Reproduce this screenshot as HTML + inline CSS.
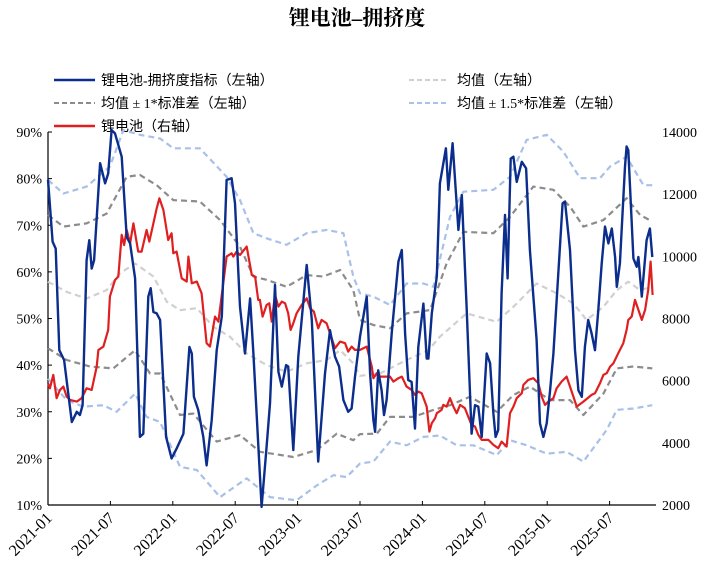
<!DOCTYPE html>
<html><head><meta charset="utf-8">
<style>
html,body{margin:0;padding:0;background:#fff;}
svg{display:block;}
</style></head>
<body>
<svg id="chart" width="715" height="575" viewBox="0 0 715 575" xmlns="http://www.w3.org/2000/svg">
<text x="357" y="25" text-anchor="middle" font-family="'Liberation Serif','Noto Serif CJK SC',serif" font-weight="bold" font-size="21" fill="#000">锂电池–拥挤度</text>
<g font-family="'Liberation Serif','Noto Sans CJK SC',serif" font-size="14" fill="#000">
 <g><line x1="54" y1="80" x2="95" y2="80" stroke="#0b2d8c" stroke-width="2.5"/><text x="101" y="85">锂电池-拥挤度指标（左轴）</text></g>
 <g><line x1="409" y1="80" x2="449" y2="80" stroke="#d0d0d0" stroke-width="2" stroke-dasharray="5,3"/><text x="457" y="85">均值（左轴）</text></g>
 <g><line x1="54" y1="103" x2="95" y2="103" stroke="#8c8c8c" stroke-width="2" stroke-dasharray="5,3"/><text x="101" y="108">均值 ± 1*标准差（左轴）</text></g>
 <g><line x1="409" y1="103" x2="449" y2="103" stroke="#a9c0e8" stroke-width="2" stroke-dasharray="5,3"/><text x="457" y="108">均值 ± 1.5*标准差（左轴）</text></g>
 <g><line x1="54" y1="126" x2="95" y2="126" stroke="#e02020" stroke-width="2.5"/><text x="101" y="131">锂电池（右轴）</text></g>
</g>
<g id="axes"></g>
<g id="series"></g>
</svg>
<script>
// week index from 2021-01 (x), values
const leftTicks=[10,20,30,40,50,60,70,80,90];
const rightTicks=[2000,4000,6000,8000,10000,12000,14000];
const xTickLabels=["2021-01","2021-07","2022-01","2022-07","2023-01","2023-07","2024-01","2024-07","2025-01","2025-07"];
const idxWeeks=[0,1.9,3.2,4.7,6.7,9.9,12,13.3,14.4,16.1,17.2,18.2,19.2,21.7,23.8,25.1,26.5,27.9,30.7,32.8,34.2,36.3,38.3,39.7,41.8,42.8,43.9,45.3,46.7,49.2,51.5,53.6,56.4,58.9,59.9,60.8,62.6,64.7,66.1,68.2,70.3,72.4,74.4,76.5,77.9,80,82.1,84.2,85.6,89,91.1,92.5,94.6,96,97.4,99.2,100.1,102.2,104.3,107.8,109.9,112.6,115.4,117.5,119.6,121.3,123.1,125.1,126.5,127.9,130,132.8,134.2,135.6,136.3,137.6,139,140,141.1,143.2,146,147.4,148.8,150.1,151.5,152.9,154.3,156.4,157.8,158.5,159.9,162,163.3,165.8,166.8,168.6,171,172.4,174.4,176.5,177.9,179.3,180.7,182.8,184.2,185.6,186.5,187.6,189,190.4,191.5,192.8,193.9,195.3,197.4,199.2,200.8,203.6,205,206.4,207.8,209.2,210.6,212.6,214.4,215.4,217.5,219.6,221,222.4,223.7,225.1,226.5,227.9,229.3,230.7,232.1,233.5,234.9,236.3,237,238.3,240.4,241.1,241.8,243.9,245.3,246,247.4,249.4,250.8,251.8];
const idxValues=[79.8,66.5,65,43.2,41.1,27.8,30,29.3,31.4,62.5,66.8,60.7,62.5,83.3,79,81.1,90.4,89.7,84.7,67.5,66.1,58.6,24.6,25.3,54.7,56.5,51.4,51.1,49.7,24.6,20,22.1,25.3,43.9,42.5,33.2,30.4,24.6,18.5,28.2,43.2,50.4,79.7,80.1,74.7,52.5,42.5,54.3,42.5,9.6,22.5,31.8,57.2,38.6,35.4,40,39.7,21.8,41.8,61.5,49.7,19.3,38.2,47.5,41.8,39.7,32.5,30,30.7,37.5,46.1,54.7,38.2,28.2,25.7,38.9,34.6,29.3,32.5,46.8,62.2,64.7,46.8,36.8,36.4,26.4,43.9,53.2,41.4,41.4,51.1,59,79,86.5,77.6,87.6,69,76.5,52.5,25.3,31.4,31.1,24.6,42.5,40.4,29.6,24.6,26.1,55.4,72.2,58.6,84.3,84.7,79.3,83.6,82.2,64.7,45.4,27.5,24.6,27.5,34.6,42.5,59.3,74.7,75.1,64.7,43.2,34.6,33.2,43.9,49.7,46.8,43.2,51.8,61.8,69.7,66.1,69.3,63.2,56.8,61.8,82.6,86.9,86.1,62.9,61.1,63.2,54.7,66.8,69.3,63.2];
const priceWeeks=[0,0.8,2.2,3.6,5,6.4,7.8,9.2,12,14,16.1,18.2,20.3,21,23.1,25.1,25.8,27.9,29.3,30.7,31.7,32.8,34.2,35.6,37.6,39,41.1,42.2,43.9,45.3,46.4,48.1,50.1,51.5,52.2,53.6,55.7,57.8,58.5,59.9,62,64,66.1,67.5,69.6,71,74.4,76.5,77.2,78.6,80,82.8,84.9,86.3,87.6,88.3,89.4,91.1,92.2,93.2,94.6,96,97.4,98.8,100.1,101.1,102.2,103.6,105.7,107.8,109.2,110.8,112.6,114,116.1,117.5,119.6,121.7,123.8,125.1,126.5,127.9,130,132.8,134.9,135.6,137,138.3,140.4,142.5,143.9,146,147.4,149.4,151.5,152.9,154.3,155.7,157.8,158.9,159.9,161.3,162,164,164.7,166.1,167.5,168.9,170.3,171.7,173.7,175.1,176.5,177.9,179.3,180.7,183.5,185.6,187.6,189,191.1,192.5,193.9,195.3,197.4,198.1,200.1,202.2,204.3,205.7,207.1,208.5,210.6,211.9,214,216.1,217.5,218.9,220.3,223.1,226.5,227.9,230,231.4,232.8,234.2,235.6,237.6,239.7,241.1,241.8,243.2,244.6,246,247.4,248.8,250.1,251.1,251.9];
const priceValues=[5917,5756,6185,5435,5703,5810,5488,5381,5328,5435,5756,5703,6453,6989,7096,7632,8704,9240,9348,10688,10366,10848,10420,11063,10152,10152,10848,10473,11063,11545,11867,11492,10527,10741,10098,10152,9294,9187,9991,9133,9187,8812,7204,7096,8061,7900,9991,10098,9991,10152,10044,10312,9401,9348,8597,8597,8061,8436,8490,7900,8758,8383,8544,8490,8168,7632,7847,8168,8436,8651,8329,8222,7686,7954,7847,7525,7043,7257,7204,6936,7096,6989,6989,7096,6453,6078,6239,6132,6132,6132,5971,6078,6132,5810,5703,5542,5649,5596,5167,4363,4631,4792,4952,5060,5220,5167,5435,5167,4952,5220,5113,4845,4577,4524,4256,4095,4095,3934,3827,4041,3880,4952,5167,5435,5596,5864,6025,6078,5917,5488,5220,5328,5435,5756,5971,6132,5810,5488,5167,5328,5542,5596,5917,6185,6239,6453,6560,6882,7204,7632,7954,8061,8597,8276,7954,8276,8919,9830,8758];
const meanWeeks=[0,7.8,16.1,24.4,30,36.3,43.9,49.5,55,62,68.9,75.8,82.8,91.1,99.4,107.8,116.1,121.7,127.2,130,138.3,149.4,158.5,163.3,174.4,186.9,193.9,203.6,212,218.9,224.4,231.4,237,241.8,246.7,251.8];
const meanValues=[57.9,55.7,54.3,56.1,59.7,61.8,59,53.6,51.8,52.2,48.2,46.1,42.5,40,38.6,40.4,41.1,43.2,40.4,37.7,38.2,41.1,43.2,46.1,51.1,49.3,52.5,57.5,55.4,53.2,49.7,52.5,56.1,57.9,56.1,56.8];
const up1Weeks=[0,6.4,16.1,24.4,32.8,38.3,45.3,52.2,63.3,71.7,80,85.6,91.1,99.4,107.8,114.7,121.7,127.2,130,135.6,142.5,149.4,159.2,166.1,173.1,185.6,192.5,202.2,210.6,217.5,223.1,231.4,241.1,246.7,251.8];
const up1Values=[72.2,69.7,70.4,72.5,80.4,80.8,78.6,75.4,75.1,71.1,65.4,59,58.3,56.8,59.3,59,60.4,56.1,49.7,48.6,47.9,51.1,51.8,61.8,68.6,68.3,71.8,78.3,77.6,74,69.7,71.1,75.8,72.2,70.8];
const dn1Weeks=[0,7.8,17.5,27.2,36.3,42.5,46.7,55,60.6,70.3,80,88.3,102.2,112,120.3,127.2,130,137,142.5,152.2,160.6,167.5,175.8,187,193.9,200.8,209.2,217.5,223.1,231.4,237,243.9,251.8];
const dn1Values=[43.6,41.1,39.7,39.3,43.2,38.2,38.2,29.3,29.6,23.6,25,21.4,20.3,21.8,25.3,23.9,25.2,25.3,28.9,28.9,30.4,31.4,33.2,30,33.6,35.4,32.5,32.5,29.3,33.9,39.3,39.7,39.3];
const up15Weeks=[0,6.4,16.1,25.8,31.4,38.3,46.7,52.2,63.3,74.4,80,85.6,91.1,99.4,107.8,116.1,123.1,127.2,130,135.6,142.5,149.4,156.4,160.6,167.5,173.1,185.6,192.5,199.4,207.8,214.7,221.7,230,234.2,241.1,248.1,251.8];
const up15Values=[79.7,76.8,78.3,82.6,90.4,89.4,88.6,86.5,86.5,80.4,75.4,68.3,67.2,65.8,68.3,69,68.3,59,55.4,54.7,52.9,57.5,57.5,56.8,71.8,77.2,77.6,80.4,88.3,89.4,85.8,80.1,80.1,82.6,84.7,78.6,78.6];
const dn15Weeks=[0,7.8,14.7,23.1,28.6,36.3,41.1,46.7,55,62,71.7,82.8,92.5,103.6,112,118.9,124.4,130,135.6,142.5,149.4,156.4,163.3,170.3,177.2,187,192.5,199.4,207.8,216.1,223.1,232.8,237,243.9,251.8];
const dn15Values=[37.1,32.5,31.1,31.4,30,33.9,28.9,27.8,18.2,17.5,11.7,15.7,11.7,11,14.2,16.4,16,18.9,19.3,23.6,22.8,24.6,24.9,22.8,22.8,20.7,23.9,22.8,21,21.4,19.3,26.1,30.4,30.7,31.4];

const NS="http://www.w3.org/2000/svg";
const X0=48, WK=2.4, XR=656, YT=132, YB=505;
const xs=w=>X0+w*WK;
const yl=v=>YB-(v-10)/80*(YB-YT);
const yr=v=>YB-(v-2000)/12000*(YB-YT);
function mk(tag,attrs,parent){const e=document.createElementNS(NS,tag);for(const k in attrs)e.setAttribute(k,attrs[k]);parent.appendChild(e);return e;}
const axes=document.getElementById('axes'), ser=document.getElementById('series');
const serif="'Liberation Serif',serif";
let a=mk('line',{x1:X0,y1:YT,x2:X0,y2:YB,stroke:'#000','stroke-width':1.2},axes);


a=mk('line',{x1:X0,y1:YB,x2:XR,y2:YB,stroke:'#000','stroke-width':1.2},axes);


leftTicks.forEach(v=>{
  const y=yl(v);
  mk('line',{x1:X0,y1:y,x2:X0+4,y2:y,stroke:'#000'},axes);
  const t=mk('text',{x:X0-6,y:y+5,'text-anchor':'end','font-family':serif,'font-size':14},axes);
  t.textContent=v+'%';
  
  
});
rightTicks.forEach(v=>{
  const t=mk('text',{x:662,y:yr(v)+5,'font-family':serif,'font-size':14},axes);
  t.textContent=v;
  
  
});
xTickLabels.forEach((s,i)=>{
  const x=X0+i*62.4;
  mk('line',{x1:x,y1:YB,x2:x,y2:YB-4,stroke:'#000'},axes);
  const t=mk('text',{x:x+5,y:YB+14,'text-anchor':'end','font-family':serif,'font-size':16,transform:`rotate(-45 ${x+5} ${YB+14})`},axes);
  t.textContent=s;
  
  
});
function line(ws,vs,yf,style,name){
  const d=ws.map((w,i)=>(i?'L':'M')+xs(w).toFixed(1)+','+yf(vs[i]).toFixed(1)).join('');
  const p=mk('path',Object.assign({d:d,fill:'none','stroke-linejoin':'round'},style),ser);
  
  
}
const dash={'stroke-width':2.2,'stroke-dasharray':'6,4'};
line(up15Weeks,up15Values,yl,Object.assign({stroke:'#a9c0e8'},dash),'plus-1.5sd-line');
line(dn15Weeks,dn15Values,yl,Object.assign({stroke:'#a9c0e8'},dash),'minus-1.5sd-line');
line(up1Weeks,up1Values,yl,Object.assign({stroke:'#8c8c8c'},dash),'plus-1sd-line');
line(dn1Weeks,dn1Values,yl,Object.assign({stroke:'#8c8c8c'},dash),'minus-1sd-line');
line(meanWeeks,meanValues,yl,Object.assign({stroke:'#d0d0d0'},dash),'mean-line');
line(priceWeeks,priceValues,yr,{stroke:'#e02020','stroke-width':2.2},'price-line');
line(idxWeeks,idxValues,yl,{stroke:'#0b2d8c','stroke-width':2.4},'crowding-index-line');
</script>
</body></html>
